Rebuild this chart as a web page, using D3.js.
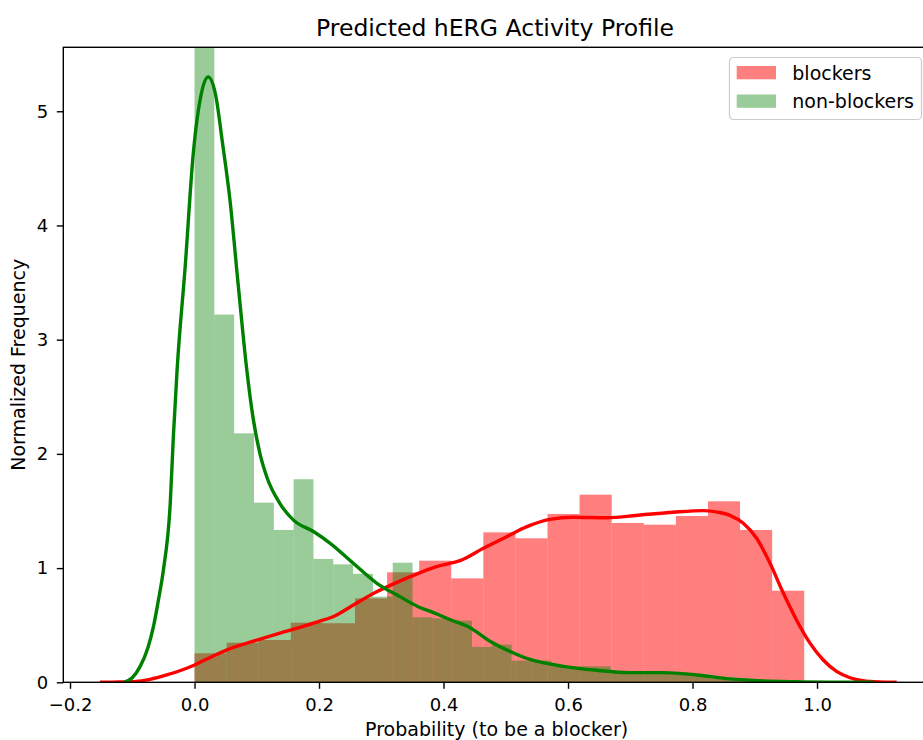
<!DOCTYPE html>
<html>
<head>
<meta charset="utf-8">
<script src="https://cdn.jsdelivr.net/npm/d3@7/dist/d3.min.js"></script>
<style>
  body { margin: 0; background: #fff; }
  svg { display: block; font-family: "DejaVu Sans", sans-serif; }
</style>
</head>
<body>
<div id="chart"></div>
<script>
// Histogram bins (normalized), both series start at 0.0
const redBinStart = 0;
const redBinWidth = 0.05155;
const redHeights = [0.254, 0.347, 0.37, 0.522, 0.517, 0.735, 0.963, 1.065, 0.91, 1.313,
    1.261, 1.474, 1.643, 1.395, 1.38, 1.456, 1.585, 1.334, 0.802];

const greenBinStart = 0;
const greenBinWidth = 0.03184;
const greenHeights = [12.9, 3.22, 2.18, 1.573, 1.334, 1.778, 1.08, 1.033, 0.95, 0.75,
    1.047, 0.569, 0.56, 0.54, 0.31, 0.33, 0.19, 0.19, 0.14, 0.14,
    0.14, 0.08, 0.08, 0.08, 0.07, 0.06, 0.04, 0.03, 0.02, 0.01, 0.01];

// KDE curves
const redKdeX = [-0.152, -0.12, -0.098, -0.0715, -0.0447, -0.018, 0, 0.03, 0.0623, 0.092,
    0.145, 0.199, 0.225, 0.2525, 0.285, 0.317, 0.3595, 0.384, 0.413, 0.4265,
    0.464, 0.5015, 0.534, 0.571, 0.6085, 0.662, 0.716, 0.769, 0.817, 0.84,
    0.86, 0.8816, 0.903, 0.9245, 0.946, 0.967, 0.989, 1.01, 1.032, 1.053,
    1.074, 1.1, 1.128];
const redKdeY = [0, 0.002, 0.006, 0.026, 0.064, 0.112, 0.152, 0.23, 0.305, 0.356,
    0.443, 0.531, 0.58, 0.668, 0.772, 0.855, 0.954, 1.005, 1.045, 1.065,
    1.173, 1.275, 1.363, 1.427, 1.445, 1.441, 1.465, 1.489, 1.503, 1.49,
    1.462, 1.392, 1.261, 1.042, 0.779, 0.546, 0.341, 0.195, 0.093, 0.04,
    0.014, 0.003, 0];

const greenKdeX = [-0.114, -0.1, -0.0875, -0.075, -0.066, -0.058, -0.05, -0.039, -0.034, -0.028,
    -0.015, -0.002, 0.0104, 0.022, 0.034, 0.045, 0.057, 0.07, 0.084, 0.0945,
    0.105, 0.116, 0.137, 0.159, 0.191, 0.218, 0.255, 0.293, 0.33, 0.36,
    0.384, 0.41, 0.442, 0.4747, 0.507, 0.539, 0.5925, 0.646, 0.7, 0.753,
    0.807, 0.86, 0.914, 0.967, 1.02, 1.09];
const greenKdeY = [0, 0.04, 0.137, 0.3, 0.487, 0.72, 0.983, 1.567, 2.15, 2.735,
    3.64, 4.63, 5.14, 5.3, 5.14, 4.72, 4.22, 3.49, 2.735, 2.3,
    2.005, 1.8, 1.567, 1.42, 1.32, 1.217, 1.042, 0.867, 0.75, 0.66,
    0.61, 0.55, 0.48, 0.36, 0.27, 0.2, 0.14, 0.105, 0.085, 0.085,
    0.064, 0.03, 0.012, 0.005, 0.001, 0];

const xTicks = [-0.2, 0.0, 0.2, 0.4, 0.6, 0.8, 1.0];
const yTicks = [0, 1, 2, 3, 4, 5];
const seriesNames = ['blockers', 'non-blockers'];

const width = 923;
const height = 740;
const margin = {top: 47.3, left: 63.3};
const plotW = 866.7;   // right spine falls just outside the picture
const plotH = 635;

const svg = d3.select('#chart')
    .append('svg')
    .attr('width', width)
    .attr('height', height);

const x = d3.scaleLinear().domain([-0.2108, 1.1815]).range([0, plotW]);
const y = d3.scaleLinear().domain([0, 5.56]).range([plotH, 0]);

svg.append('defs').append('clipPath')
    .attr('id', 'plot-clip')
    .append('rect')
    .attr('width', plotW)
    .attr('height', plotH);

const g = svg.append('g')
    .attr('transform', `translate(${margin.left},${margin.top})`);

const plot = g.append('g').attr('clip-path', 'url(#plot-clip)');

const bins = (start, w, heights) => heights.map((h, i) => ({x0: start + i * w, x1: start + (i + 1) * w, h}));

// bars first (matplotlib patches sit under lines)
plot.append('g').selectAll('rect')
    .data(bins(redBinStart, redBinWidth, redHeights))
    .enter().append('rect')
    .attr('x', d => x(d.x0))
    .attr('width', d => x(d.x1) - x(d.x0))
    .attr('y', d => y(d.h))
    .attr('height', d => y(0) - y(d.h))
    .attr('fill', 'red')
    .attr('fill-opacity', 0.5);

plot.append('g').selectAll('rect')
    .data(bins(greenBinStart, greenBinWidth, greenHeights))
    .enter().append('rect')
    .attr('x', d => x(d.x0))
    .attr('width', d => x(d.x1) - x(d.x0))
    .attr('y', d => y(d.h))
    .attr('height', d => y(0) - y(d.h))
    .attr('fill', 'green')
    .attr('fill-opacity', 0.4);

const line = d3.line()
    .x(d => x(d[0]))
    .y(d => y(d[1]))
    .curve(d3.curveMonotoneX);

plot.append('path')
    .datum(d3.zip(redKdeX, redKdeY))
    .attr('d', line)
    .attr('fill', 'none')
    .attr('stroke', 'red')
    .attr('stroke-width', 3.4)
    .attr('stroke-linejoin', 'round');

plot.append('path')
    .datum(d3.zip(greenKdeX, greenKdeY))
    .attr('d', line)
    .attr('fill', 'none')
    .attr('stroke', 'green')
    .attr('stroke-width', 3.4)
    .attr('stroke-linejoin', 'round');

// axes
const xAxis = g.append('g')
    .attr('transform', `translate(0,${plotH})`)
    .call(d3.axisBottom(x).tickValues(xTicks).tickFormat(d3.format('.1f'))
        .tickSize(6.5).tickSizeOuter(0).tickPadding(9));

const yAxis = g.append('g')
    .call(d3.axisLeft(y).tickValues(yTicks).tickFormat(d3.format('d'))
        .tickSize(6.5).tickSizeOuter(0).tickPadding(8.5));

[xAxis, yAxis].forEach(a => {
    a.select('.domain').remove();
    a.selectAll('line').attr('stroke', '#000').attr('stroke-width', 1.4);
    a.selectAll('text')
        .attr('fill', '#000')
        .style('font-family', '"DejaVu Sans", sans-serif')
        .style('font-size', '18px');
});

// spines
g.append('rect')
    .attr('width', plotW)
    .attr('height', plotH)
    .attr('fill', 'none')
    .attr('stroke', '#000')
    .attr('stroke-width', 1.4);

// titles
svg.append('text')
    .attr('x', 495)
    .attr('y', 35.5)
    .attr('text-anchor', 'middle')
    .style('font-size', '23.5px')
    .text('Predicted hERG Activity Profile');

svg.append('text')
    .attr('x', margin.left + plotW / 2)
    .attr('y', 736)
    .attr('text-anchor', 'middle')
    .style('font-size', '19px')
    .text('Probability (to be a blocker)');

svg.append('text')
    .attr('transform', `translate(24.5,${margin.top + plotH / 2}) rotate(-90)`)
    .attr('text-anchor', 'middle')
    .style('font-size', '19px')
    .text('Normalized Frequency');

// legend
const legendColor = {'blockers': ['red', 0.5], 'non-blockers': ['green', 0.4]};

const legend = svg.append('g')
    .attr('transform', 'translate(729,57)');

legend.append('rect')
    .attr('x', 0.5)
    .attr('y', 0.5)
    .attr('width', 192)
    .attr('height', 62)
    .attr('rx', 4)
    .attr('fill', '#fff')
    .attr('fill-opacity', 0.8)
    .attr('stroke', '#cccccc')
    .attr('stroke-width', 1.2);

const item = legend.selectAll('g.item')
    .data(seriesNames)
    .enter().append('g')
    .attr('class', 'item')
    .attr('transform', (d, i) => `translate(0,${i * 28.5})`);

item.append('rect')
    .attr('x', 7.7)
    .attr('y', 9)
    .attr('width', 39.3)
    .attr('height', 13.3)
    .attr('fill', d => legendColor[d][0])
    .attr('fill-opacity', d => legendColor[d][1]);

item.append('text')
    .attr('x', 63.3)
    .attr('y', 22.6)
    .style('font-size', '19px')
    .text(d => d);
</script>
</body>
</html>
